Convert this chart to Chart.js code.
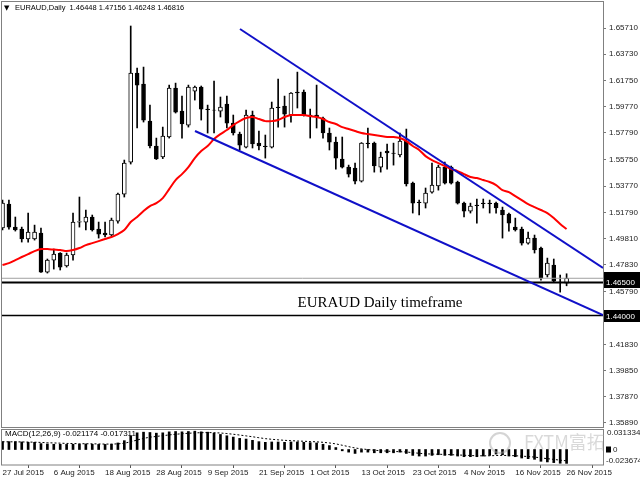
<!DOCTYPE html>
<html>
<head>
<meta charset="utf-8">
<script src="https://cdn.jsdelivr.net/npm/chart.js@4.4.0/dist/chart.umd.min.js"></script>
<style>
  html, body { margin: 0; padding: 0; background: #fff; }
  #wrap { position: relative; width: 640px; height: 480px; overflow: hidden; background: #fff; }
  canvas { position: absolute; left: 0; }
  #main { top: 0; }
  #macd { top: 428px; }
</style>
</head>
<body>
<div id="wrap">
  <canvas id="main" width="640" height="430"></canvas>
  <canvas id="macd" width="640" height="52"></canvas>
</div>
<script>
// EURAUD daily bars, 27 Jul 2015 .. 26 Nov 2015
var opens = [1.5061, 1.5242, 1.5068, 1.5053, 1.4978, 1.4978, 1.5023, 1.4728, 1.4819, 1.4872,
  1.4774, 1.4857, 1.5106, 1.5106, 1.5144, 1.5053, 1.5023, 1.5008, 1.5113, 1.5317,
  1.5559, 1.6231, 1.6148, 1.5868, 1.5680, 1.5597, 1.5748, 1.6118, 1.5944, 1.5838,
  1.6095, 1.6125, 1.5959, 1.5952, 1.5944, 1.5997, 1.5853, 1.5770, 1.5672, 1.5914,
  1.5702, 1.5680, 1.5672, 1.5974, 1.5982, 1.5914, 1.6087, 1.6087, 1.5914, 1.5914,
  1.5891, 1.5778, 1.5710, 1.5582, 1.5521, 1.5514, 1.5415, 1.5702, 1.5702, 1.5521,
  1.5642, 1.5627, 1.5612, 1.5717, 1.5400, 1.5257, 1.5249, 1.5332, 1.5378, 1.5521,
  1.5521, 1.5408, 1.5249, 1.5189, 1.5234, 1.5249, 1.5249, 1.5249, 1.5197, 1.5166,
  1.5068, 1.5053, 1.4947, 1.4985, 1.4910, 1.4706, 1.4781, 1.4653, 1.46448]
var highs = [1.5272, 1.5272, 1.5144, 1.5068, 1.5174, 1.5083, 1.5061, 1.4827, 1.4902, 1.4875,
  1.4872, 1.5174, 1.5295, 1.5197, 1.5159, 1.5106, 1.5106, 1.5136, 1.5325, 1.5574,
  1.6586, 1.6269, 1.6276, 1.5989, 1.5740, 1.5823, 1.6140, 1.6155, 1.6057, 1.6140,
  1.6133, 1.6133, 1.5989, 1.6170, 1.6050, 1.6057, 1.5914, 1.5785, 1.5952, 1.5944,
  1.5793, 1.5763, 1.6012, 1.6186, 1.6057, 1.6084, 1.6238, 1.6103, 1.5959, 1.6140,
  1.5899, 1.5816, 1.5748, 1.5748, 1.5536, 1.5551, 1.5706, 1.5816, 1.5710, 1.5634,
  1.5695, 1.5702, 1.5778, 1.5808, 1.5408, 1.5272, 1.5363, 1.5551, 1.5536, 1.5559,
  1.5529, 1.5415, 1.5257, 1.5249, 1.5280, 1.5280, 1.5272, 1.5257, 1.5219, 1.5174,
  1.5136, 1.5068, 1.5030, 1.5008, 1.4917, 1.4834, 1.4827, 1.4706, 1.47156]
var lows = [1.5046, 1.5053, 1.5038, 1.4955, 1.4955, 1.4970, 1.4725, 1.4721, 1.4751, 1.4744,
  1.4766, 1.4819, 1.5068, 1.5046, 1.5038, 1.4985, 1.4993, 1.5000, 1.5098, 1.5295,
  1.5544, 1.5816, 1.5861, 1.5665, 1.5578, 1.5585, 1.5740, 1.5929, 1.5740, 1.5823,
  1.6027, 1.5876, 1.5778, 1.5778, 1.5899, 1.5816, 1.5763, 1.5650, 1.5665, 1.5665,
  1.5650, 1.5589, 1.5665, 1.5823, 1.5823, 1.5861, 1.5967, 1.5906, 1.5740, 1.5816,
  1.5740, 1.5650, 1.5506, 1.5514, 1.5446, 1.5393, 1.5408, 1.5665, 1.5483, 1.5483,
  1.5506, 1.5536, 1.5597, 1.5378, 1.5174, 1.5159, 1.5212, 1.5325, 1.5347, 1.5393,
  1.5393, 1.5242, 1.5144, 1.5174, 1.5098, 1.5212, 1.5174, 1.5174, 1.4985, 1.5038,
  1.5038, 1.4932, 1.4940, 1.4872, 1.4668, 1.4691, 1.4653, 1.4577, 1.46248]
var closes = [1.5249, 1.5068, 1.5046, 1.4978, 1.5030, 1.5030, 1.4728, 1.4819, 1.4864, 1.4766,
  1.4857, 1.5106, 1.5110, 1.5144, 1.5046, 1.5015, 1.5008, 1.5121, 1.5317, 1.5551,
  1.6231, 1.6140, 1.5876, 1.5680, 1.5582, 1.5755, 1.6118, 1.5936, 1.5846, 1.6125,
  1.6125, 1.5959, 1.5955, 1.5950, 1.5974, 1.5853, 1.5778, 1.5687, 1.5914, 1.5695,
  1.5680, 1.5676, 1.5967, 1.5970, 1.5921, 1.6080, 1.6080, 1.5914, 1.5910, 1.5899,
  1.5778, 1.5710, 1.5589, 1.5521, 1.5468, 1.5415, 1.5702, 1.5698, 1.5529, 1.5597,
  1.5627, 1.5624, 1.5717, 1.5393, 1.5249, 1.5253, 1.5325, 1.5385, 1.5521, 1.5400,
  1.5400, 1.5249, 1.5189, 1.5227, 1.5230, 1.5245, 1.5245, 1.5212, 1.5159, 1.5098,
  1.5046, 1.4947, 1.4985, 1.4895, 1.4683, 1.4796, 1.4660, 1.4650, 1.46816]

// red moving average
var maLine = [1.4781, 1.4796, 1.4819, 1.4842, 1.4864, 1.4887, 1.4902, 1.4902, 1.4898, 1.4895,
  1.4887, 1.4895, 1.4910, 1.4932, 1.4947, 1.4962, 1.4978, 1.4993, 1.5015, 1.5046,
  1.5106, 1.5144, 1.5189, 1.5227, 1.5249, 1.5287, 1.5355, 1.5423, 1.5468, 1.5521,
  1.5589, 1.5642, 1.5680, 1.5733, 1.5770, 1.5801, 1.5838, 1.5868, 1.5891, 1.5899,
  1.5884, 1.5868, 1.5868, 1.5876, 1.5899, 1.5914, 1.5914, 1.5914, 1.5906, 1.5899,
  1.5884, 1.5861, 1.5846, 1.5823, 1.5808, 1.5793, 1.5778, 1.5770, 1.5763, 1.5755,
  1.5748, 1.5748, 1.5740, 1.5717, 1.5680, 1.5650, 1.5604, 1.5574, 1.5551, 1.5529,
  1.5506, 1.5491, 1.5468, 1.5446, 1.5438, 1.5423, 1.5408, 1.5385, 1.5347, 1.5332,
  1.5302, 1.5272, 1.5242, 1.5219, 1.5197, 1.5174, 1.5136, 1.5091, 1.5053]

// MACD(12,26,9): main histogram and dotted signal
var macdMain = [0.0120, 0.0120, 0.0120, 0.0115, 0.0110, 0.0110, 0.0090, 0.0085, 0.0080, 0.0080,
  0.0078, 0.0080, 0.0080, 0.0085, 0.0080, 0.0078, 0.0078, 0.0080, 0.0100, 0.0135,
  0.0210, 0.0255, 0.0265, 0.0260, 0.0250, 0.0255, 0.0270, 0.0275, 0.0270, 0.0275,
  0.0280, 0.0270, 0.0265, 0.0250, 0.0230, 0.0210, 0.0190, 0.0170, 0.0160, 0.0140,
  0.0120, 0.0110, 0.0115, 0.0115, 0.0110, 0.0115, 0.0115, 0.0110, 0.0105, 0.0100,
  0.0080, 0.0060, 0.0030, -0.0020, -0.0040, -0.0060, -0.0040, -0.0040, -0.0050, -0.0050,
  -0.0050, -0.0050, -0.0040, -0.0060, -0.0090, -0.0100, -0.0100, -0.0090, -0.0080, -0.0090,
  -0.0090, -0.0100, -0.0110, -0.0110, -0.0110, -0.0100, -0.0090, -0.0070, -0.0080, -0.0100,
  -0.0110, -0.0130, -0.0140, -0.0150, -0.0180, -0.0190, -0.0200, -0.0210, -0.0212]
var macdSignal = [0.0118, 0.0118, 0.0117, 0.0116, 0.0114, 0.0112, 0.0108, 0.0104, 0.0100, 0.0097,
  0.0093, 0.0091, 0.0089, 0.0088, 0.0087, 0.0085, 0.0083, 0.0083, 0.0086, 0.0096,
  0.0118, 0.0145, 0.0170, 0.0188, 0.0200, 0.0211, 0.0223, 0.0233, 0.0241, 0.0248,
  0.0254, 0.0257, 0.0259, 0.0257, 0.0252, 0.0244, 0.0233, 0.0221, 0.0208, 0.0195,
  0.0180, 0.0166, 0.0156, 0.0148, 0.0140, 0.0135, 0.0130, 0.0126, 0.0122, 0.0117,
  0.0110, 0.0100, 0.0086, 0.0065, 0.0044, 0.0023, 0.0010, -0.0001, -0.0011, -0.0019,
  -0.0025, -0.0030, -0.0033, -0.0038, -0.0048, -0.0058, -0.0066, -0.0070, -0.0072, -0.0076,
  -0.0079, -0.0083, -0.0088, -0.0092, -0.0095, -0.0097, -0.0096, -0.0092, -0.0090, -0.0092,
  -0.0095, -0.0101, -0.0108, -0.0116, -0.0128, -0.0140, -0.0151, -0.0163, -0.0173]

// trend lines as [bar index, price]
var upperTrend = [[37.05, 1.65635], [93.68, 1.47591]]
var lowerTrend = [[30.03, 1.57934], [93.68, 1.44043]]
var bidLevel = 1.46816
var supportLevels = [1.46500, 1.44000]

var priceTicks = [1.65710, 1.63730, 1.61750, 1.59770, 1.57790, 1.55750, 1.53770, 1.51790,
  1.49810, 1.47830, 1.45790, 1.41830, 1.39850, 1.37870, 1.35890]
var dateIdx = [0, 8, 16, 24, 32, 40, 48, 56, 64, 72, 80, 88]
var dateLabels = ['27 Jul 2015', '6 Aug 2015', '18 Aug 2015', '28 Aug 2015', '9 Sep 2015', '21 Sep 2015',
  '1 Oct 2015', '13 Oct 2015', '23 Oct 2015', '4 Nov 2015', '16 Nov 2015', '26 Nov 2015']
var macdLabels = ['0.031334', '0', '-0.023674']

var xMin = -0.08
var xMax = 93.68
var axisFont = {family: 'Liberation Sans', size: 8}

var idx = opens.map((_, i) => i)

function levelLine(v) {
  return [{x: xMin, y: v}, {x: xMax, y: v}]
}

function trendData(t) {
  return t.map(p => ({x: p[0], y: p[1]}))
}

var mainDecor = {
  id: 'mainDecor',
  afterDraw: function(chart) {
    var ctx = chart.ctx
    var y = chart.scales.y
    ctx.save()
    ctx.strokeStyle = '#808080'
    ctx.lineWidth = 1
    ctx.strokeRect(1.5, 1.5, 602, 426)

    ctx.fillStyle = '#000'
    ctx.textBaseline = 'middle'
    ctx.font = '7px "DejaVu Sans"'
    ctx.fillText('▼', 4, 8)
    ctx.font = '7.5px "Liberation Sans"'
    ctx.fillText('EURAUD,Daily  1.46448 1.47156 1.46248 1.46816', 15, 8)

    ctx.font = '15px "Liberation Serif"'
    ctx.textAlign = 'center'
    ctx.fillText('EURAUD Daily timeframe', 380, y.getPixelForValue(1.4494))

    // price boxes on the axis
    ctx.textAlign = 'left'
    ctx.font = '8px "Liberation Sans"'
    var boxes = [bidLevel].concat(supportLevels)
    boxes.forEach(function(v) {
      var py = Math.round(y.getPixelForValue(v))
      ctx.fillStyle = '#000'
      ctx.fillRect(604, py - 6, 36, 12)
      ctx.fillStyle = '#fff'
      ctx.fillText(v.toFixed(5), 606, py + 0.5)
    })
    ctx.restore()
  }
}

var macdDecor = {
  id: 'macdDecor',
  afterDraw: function(chart) {
    var ctx = chart.ctx
    var y = chart.scales.y
    ctx.save()
    ctx.strokeStyle = '#808080'
    ctx.lineWidth = 1
    ctx.strokeRect(1.5, 1.5, 602, 35.5)

    // faint watermark
    ctx.strokeStyle = 'rgba(170,170,170,0.5)'
    ctx.lineWidth = 2
    ctx.beginPath()
    ctx.arc(500, 15, 10, 0, Math.PI * 2)
    ctx.stroke()
    ctx.fillStyle = 'rgba(160,160,160,0.4)'
    ctx.font = '18px "Noto Sans CJK SC"'
    ctx.textBaseline = 'middle'
    ctx.fillText('FXTM富拓', 524, 14)

    ctx.fillStyle = '#000'
    ctx.font = '8px "Liberation Sans"'
    ctx.fillText('MACD(12,26,9) -0.021174 -0.017311', 5, 6)

    ctx.fillStyle = '#222'
    ctx.fillText(macdLabels[0], 607, y.getPixelForValue(0.031334) + 4)
    ctx.fillText(macdLabels[1], 613, y.getPixelForValue(0))
    ctx.fillText(macdLabels[2], 606, y.getPixelForValue(-0.023674) - 4)
    ctx.fillStyle = '#000'
    ctx.fillRect(606, y.getPixelForValue(0) - 3, 5, 6)
    ctx.restore()
  }
}

var chartMain = new Chart(document.getElementById('main'), {
  type: 'bar',
  data: {
    datasets: [
      {
        type: 'bar',
        data: idx.map(i => ({x: i, y: [lows[i], highs[i]]})),
        backgroundColor: '#000',
        barThickness: 1,
        grouped: false,
        order: 10
      },
      {
        type: 'bar',
        data: idx.map(i => ({x: i, y: [opens[i], closes[i]]})),
        backgroundColor: idx.map(i => closes[i] >= opens[i] ? '#fff' : '#000'),
        borderColor: '#000',
        borderWidth: 1,
        borderSkipped: false,
        barThickness: 4,
        grouped: false,
        order: 9
      },
      {
        type: 'line',
        data: idx.map(i => ({x: i, y: maLine[i]})),
        borderColor: '#ff0000',
        borderWidth: 2,
        pointRadius: 0,
        tension: 0.3,
        order: 5
      },
      {
        type: 'line',
        data: levelLine(bidLevel),
        borderColor: '#a0a0a0',
        borderWidth: 1,
        pointRadius: 0,
        order: 4
      },
      {
        type: 'line',
        data: levelLine(supportLevels[0]),
        borderColor: '#000',
        borderWidth: 2,
        pointRadius: 0,
        order: 3
      },
      {
        type: 'line',
        data: levelLine(supportLevels[1]),
        borderColor: '#000',
        borderWidth: 1.5,
        pointRadius: 0,
        order: 3
      },
      {
        type: 'line',
        data: trendData(upperTrend),
        borderColor: '#1010c8',
        borderWidth: 2,
        pointRadius: 0,
        order: 2
      },
      {
        type: 'line',
        data: trendData(lowerTrend),
        borderColor: '#1010c8',
        borderWidth: 2,
        pointRadius: 0,
        order: 2
      }
    ]
  },
  options: {
    responsive: false,
    animation: false,
    layout: {padding: {left: 2, top: 2, right: 0, bottom: 3}},
    plugins: {legend: {display: false}, tooltip: {enabled: false}},
    scales: {
      x: {
        type: 'linear',
        min: xMin,
        max: xMax,
        offset: false,
        display: false
      },
      y: {
        type: 'linear',
        position: 'right',
        min: 1.35588,
        max: 1.67673,
        afterBuildTicks: function(scale) {
          scale.ticks = priceTicks.map(v => ({value: v}))
        },
        afterFit: function(scale) {
          scale.width = 37
          scale.paddingTop = 0
          scale.paddingBottom = 0
        },
        border: {display: false},
        grid: {drawOnChartArea: false, tickLength: 3, color: '#777'},
        ticks: {
          autoSkip: false,
          padding: 3,
          color: '#222',
          font: axisFont,
          callback: v => v.toFixed(5)
        }
      }
    }
  },
  plugins: [mainDecor]
})

var chartMacd = new Chart(document.getElementById('macd'), {
  type: 'bar',
  data: {
    datasets: [
      {
        type: 'bar',
        data: idx.map(i => ({x: i, y: macdMain[i]})),
        backgroundColor: '#000',
        barThickness: 2,
        grouped: false,
        order: 2
      },
      {
        type: 'line',
        data: idx.map(i => ({x: i, y: macdSignal[i]})),
        borderColor: '#000',
        borderWidth: 1,
        borderDash: [2, 2],
        pointRadius: 0,
        order: 1
      }
    ]
  },
  options: {
    responsive: false,
    animation: false,
    layout: {padding: {left: 2, top: 1, right: 0, bottom: 0}},
    plugins: {legend: {display: false}, tooltip: {enabled: false}},
    scales: {
      x: {
        type: 'linear',
        min: xMin,
        max: xMax,
        offset: false,
        position: 'bottom',
        afterBuildTicks: function(scale) {
          scale.ticks = dateIdx.map(v => ({value: v}))
        },
        afterFit: function(scale) {
          scale.height = 15
          scale.paddingLeft = 0
          scale.paddingRight = 0
        },
        border: {display: false},
        grid: {drawOnChartArea: false, tickLength: 3, color: '#555'},
        ticks: {
          autoSkip: false,
          maxRotation: 0,
          align: 'start',
          padding: 0,
          color: '#222',
          font: axisFont,
          callback: (v, i) => dateLabels[i]
        }
      },
      y: {
        type: 'linear',
        position: 'right',
        min: -0.023674,
        max: 0.031334,
        afterFit: function(scale) {
          scale.width = 37
          scale.paddingTop = 0
          scale.paddingBottom = 0
        },
        border: {display: false},
        grid: {display: false},
        ticks: {display: false}
      }
    }
  },
  plugins: [macdDecor]
})
</script>
</body>
</html>
